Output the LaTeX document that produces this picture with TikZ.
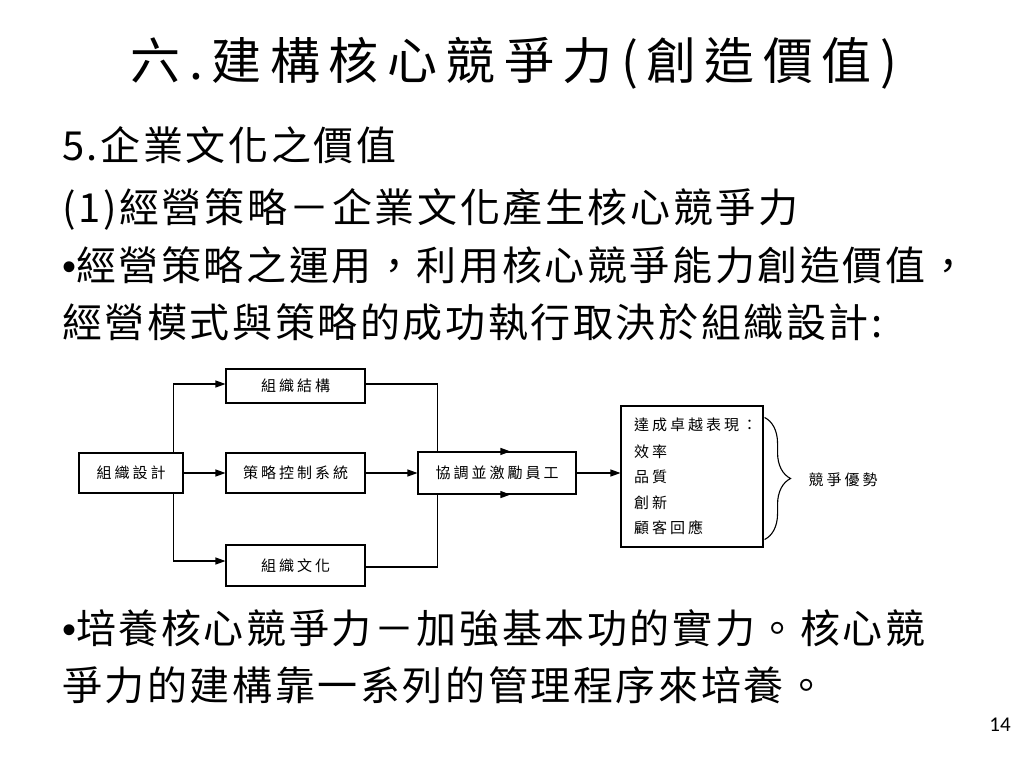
\documentclass[tikz,border=0pt]{standalone}
\usepackage{fontspec}
\usetikzlibrary{arrows.meta,decorations.pathreplacing}
\newfontfamily\titlefont[LetterSpace=17]{Noto Sans CJK TC}
\newfontfamily\bodyfont[LetterSpace=6.5]{Noto Sans CJK TC}
\newfontfamily\diagfont[LetterSpace=20]{Noto Sans CJK TC}
\newfontfamily\bulfont{Liberation Sans}
\newfontfamily\numfont{Carlito}
\begin{document}
\begin{tikzpicture}[x=1pt,y=-1pt,
  titletext/.style={inner sep=0, font=\titlefont\fontsize{50}{60}\selectfont},
  bodytext/.style={anchor=west, inner sep=0, text height=35pt, text depth=5pt, font=\bodyfont\fontsize{40}{48}\selectfont},
  boxnode/.style={draw, line width=1.1pt, inner sep=0, font=\diagfont\fontsize{15}{18}\selectfont},
  lbl/.style={inner sep=0, font=\diagfont\fontsize{15}{18}\selectfont},
  arr/.style={-{Triangle[length=10pt,width=7pt]}, line width=1.1pt},
  bracestyle/.style={decorate, decoration={brace, amplitude=26pt}, line width=1.1pt}
]
\fill[white] (0,0) rectangle (1024,768);
\useasboundingbox (0,0) rectangle (1024,768);

% texts
\node[titletext] (title) at (514,63) {六.建構核心競爭力(創造價值)};
\node[bodytext] (l1) at (62,145) {5.企業文化之價值};
\node[bodytext] (l2) at (62,207) {(1)經營策略－企業文化產生核心競爭力};
\node[bodytext] (l3) at (62,265) {{\bulfont •}經營策略之運用，利用核心競爭能力創造價值，};
\node[bodytext] (l4) at (62,322) {經營模式與策略的成功執行取決於組織設計:};
\node[bodytext] (l5) at (62,628) {{\bulfont •}培養核心競爭力－加強基本功的實力。核心競};
\node[bodytext] (l6) at (62,685) {爭力的建構靠一系列的管理程序來培養。};
\node[inner sep=0, font=\numfont\fontsize{21}{25}\selectfont] (num) at (1000,725) {14};

% boxes
\node[boxnode, minimum width=104, minimum height=40] (design) at (131,473) {組織設計};
\node[boxnode, minimum width=139, minimum height=34] (struct) at (295.5,386) {組織結構};
\node[boxnode, minimum width=139, minimum height=40] (strategy) at (295.5,473) {策略控制系統};
\node[boxnode, minimum width=139, minimum height=41] (culture) at (295.5,565.5) {組織文化};
\node[boxnode, minimum width=158, minimum height=42] (coord) at (497,473) {協調並激勵員工};
\node[boxnode, minimum width=142, minimum height=141] (ach) at (692,476.5) {};

\node[lbl, anchor=west] (a1) at (634,425) {達成卓越表現：};
\node[lbl, anchor=west] (a2) at (634,452) {效率};
\node[lbl, anchor=west] (a3) at (634,477) {品質};
\node[lbl, anchor=west] (a4) at (634,503) {創新};
\node[lbl, anchor=west] (a5) at (634,528) {顧客回應};

\node[lbl] (adv) at (843,480) {競爭優勢};

% connectors
\draw[arr] (design) -- (strategy);
\draw[arr] ([xshift=-10pt]design.north east) |- ([yshift=2pt]struct.west);
\draw[arr] ([xshift=-10pt]design.south east) |- ([yshift=4.5pt]culture.west);
\draw[arr] (strategy) -- (coord);
\draw[arr] ([yshift=2pt]struct.east) -| ([xshift=20pt]coord.north west) -- ([xshift=93pt]coord.north west);
\draw[arr] ([yshift=-1.5pt]culture.east) -| ([xshift=20pt]coord.south west) -- ([xshift=93pt]coord.south west);
\draw[arr] (coord.east) -- (coord.east -| ach.west);
\draw[bracestyle] ([xshift=1pt,yshift=-12pt]ach.north east) -- ([xshift=1pt,yshift=8pt]ach.south east);
\end{tikzpicture}
\end{document}
